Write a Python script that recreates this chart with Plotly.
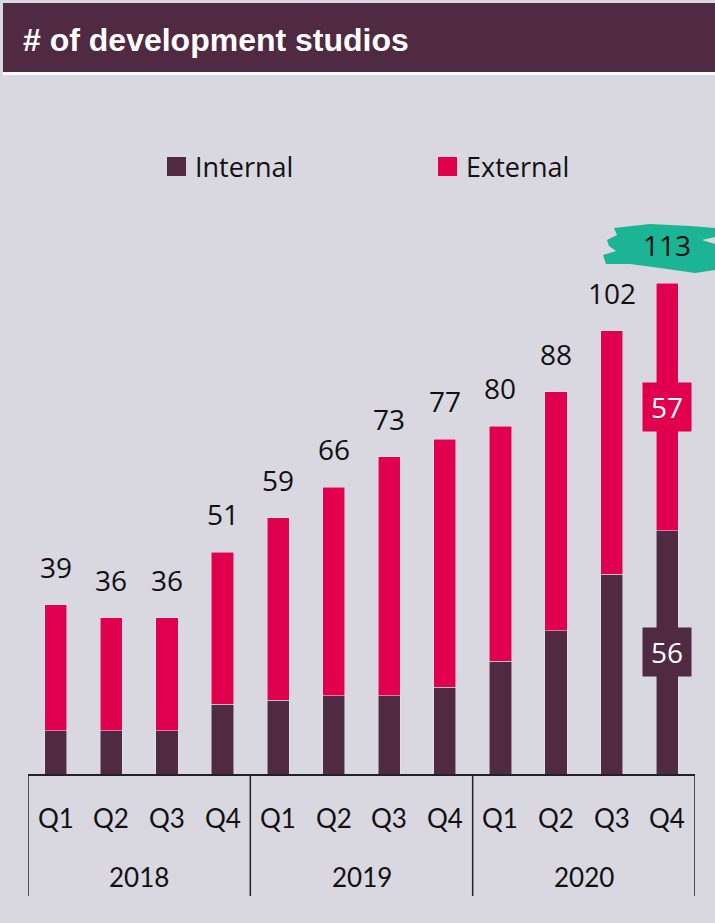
import plotly.graph_objects as go

years = ["2018"] * 4 + ["2019"] * 4 + ["2020"] * 4
quarters = ["Q1", "Q2", "Q3", "Q4"] * 3
internal = [10, 10, 10, 16, 17, 18, 18, 20, 26, 33, 46, 56]
external = [29, 26, 26, 35, 42, 48, 55, 57, 54, 55, 56, 57]
totals = [i + e for i, e in zip(internal, external)]
year_labels = ["2018", "2019", "2020"]
series_names = ["Internal", "External"]

W, H = 715, 923
INT_COLOR = "#4F2A42"
EXT_COLOR = "#E0004D"
BG = "#D9D7E0"
TEAL = "#1BB495"
FONT_NUM = "Open Sans"
FONT_AX = "Lato"

def px(x):
    return x / W

def py(y):
    return 1 - y / H

cats = [f"{y} {q}" for y, q in zip(years, quarters)]

fig = go.Figure()
fig.add_bar(x=cats, y=internal, name=series_names[0], marker_color=INT_COLOR, width=0.4)
fig.add_bar(x=cats, y=external, name=series_names[1], marker_color=EXT_COLOR, width=0.4)

ann = []
# totals above bars
for i, t in enumerate(totals):
    ann.append(dict(x=i, y=t, xref="x", yref="y", text=str(t), showarrow=False,
                    yanchor="bottom", yshift=17,
                    font=dict(family=FONT_NUM, size=28, color="#111111")))
# segment labels on last bar
last = len(cats) - 1
ann.append(dict(x=last, y=internal[last] / 2, xref="x", yref="y", text=str(internal[last]),
                showarrow=False, bgcolor=INT_COLOR, width=36, height=36, borderpad=6,
                font=dict(family=FONT_NUM, size=28, color="white")))
ann.append(dict(x=last, y=internal[last] + external[last] / 2, xref="x", yref="y",
                text=str(external[last]), showarrow=False, bgcolor=EXT_COLOR,
                width=36, height=36, borderpad=6,
                font=dict(family=FONT_NUM, size=28, color="white")))
# quarter labels
for i, q in enumerate(quarters):
    ann.append(dict(x=i, y=py(818), xref="x", yref="paper", text=q, showarrow=False,
                    yanchor="middle", font=dict(family=FONT_AX, size=26, color="#111111")))
# year labels
for k, yl in enumerate(year_labels):
    ann.append(dict(x=4 * k + 1.5, y=py(877), xref="x", yref="paper", text=yl, showarrow=False,
                    yanchor="middle", font=dict(family=FONT_AX, size=26, color="#111111")))
# title
ann.append(dict(x=px(21), y=py(40), xref="paper", yref="paper", text="<b># of development studios</b>",
                showarrow=False, xanchor="left", yanchor="middle",
                font=dict(family="Liberation Sans", size=32, color="white")))

shapes = []
# legend (manual)
legend_pos = [(167, 193), (438, 464)]
for (sx, tx), name, col in zip(legend_pos, series_names, [INT_COLOR, EXT_COLOR]):
    shapes.append(dict(type="rect", xref="paper", yref="paper", x0=px(sx), x1=px(sx + 19),
                       y0=py(176), y1=py(157), fillcolor=col, line_width=0))
    ann.append(dict(x=px(tx), y=py(166), xref="paper", yref="paper", text=name, showarrow=False,
                    xanchor="left", yanchor="middle",
                    font=dict(family=FONT_NUM, size=27, color="#111111")))
# title bar
shapes.append(dict(type="rect", xref="paper", yref="paper", x0=px(3), x1=1, y0=py(72), y1=py(3),
                   fillcolor=INT_COLOR, line_width=0, layer="below"))
shapes.append(dict(type="rect", xref="paper", yref="paper", x0=px(3), x1=1, y0=py(75), y1=py(72),
                   fillcolor="white", line_width=0, layer="below"))
# group separators
for k in range(4):
    shapes.append(dict(type="line", xref="x", yref="paper", x0=4 * k - 0.5, x1=4 * k - 0.5,
                       y0=py(774), y1=py(896), line=dict(color="#222222", width=1.5)))
# teal brush mark behind 113
pts = [(614, 228), (650, 224), (690, 226), (715, 228), (715, 237), (702, 240), (715, 244),
       (715, 270), (695, 273), (660, 268), (630, 264), (606, 264), (603, 255), (616, 251),
       (609, 246), (607, 240), (617, 235)]
path = "M " + " L ".join(f"{px(x):.5f},{py(y):.5f}" for x, y in pts) + " Z"
shapes.append(dict(type="path", xref="paper", yref="paper", path=path,
                   fillcolor=TEAL, line_width=0, layer="below"))

fig.update_layout(
    width=W, height=H,
    margin=dict(l=0, r=0, t=0, b=0),
    paper_bgcolor=BG, plot_bgcolor=BG,
    barmode="stack",
    showlegend=False,
    xaxis=dict(domain=[px(28), px(695)], showticklabels=False, ticks="",
               showline=True, linecolor="#222222", linewidth=1.5, showgrid=False,
               zeroline=False, range=[-0.5, 11.5], fixedrange=True),
    yaxis=dict(domain=[py(774), py(200)], range=[0, 574 / 4.345], visible=False,
               showgrid=False, zeroline=False, fixedrange=True),
    annotations=ann,
    shapes=shapes,
)

fig.write_html("out.html")
